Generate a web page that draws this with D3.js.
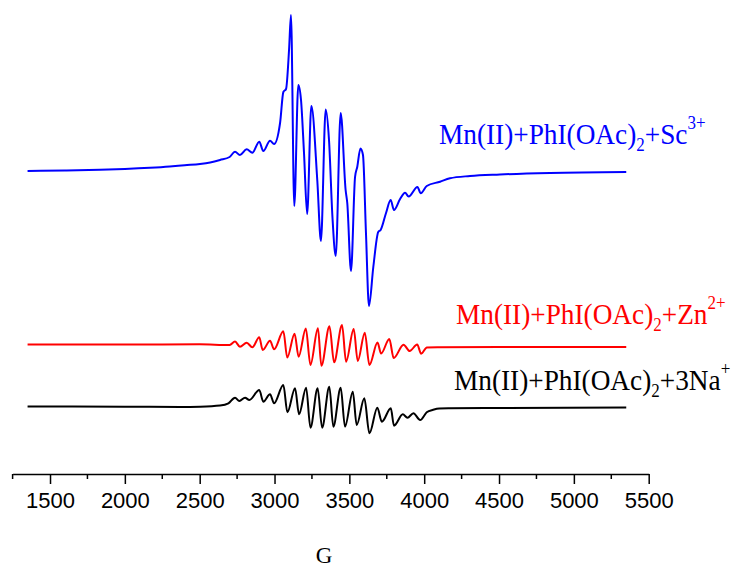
<!DOCTYPE html>
<html>
<head>
<meta charset="utf-8">
<script src="https://cdn.jsdelivr.net/npm/d3@7"></script>
<style>
  html, body { margin: 0; padding: 0; background: #fff; }
  svg { display: block; }
</style>
</head>
<body>
<svg id="chart" width="737" height="568"></svg>
<script>
// Magnetic field (G) and first-derivative EPR intensity (a.u., relative to each trace's baseline)
const fieldSc = [1350, 1600, 1834, 2000, 2168, 2300, 2400, 2502, 2570, 2636, 2700, 2736, 2769, 2814, 2852,
  2898, 2925, 2970, 2997, 3037, 3059, 3077, 3097, 3110, 3132, 3159, 3177, 3197, 3218, 3246, 3286, 3310,
  3342, 3364, 3387, 3409, 3442, 3475, 3486, 3511, 3538, 3553, 3574, 3591, 3611, 3631, 3660, 3693, 3709,
  3745, 3776, 3798, 3838, 3872, 3896, 3955, 3977, 4017, 4106, 4172, 4306, 4506, 4841, 5350];
const intensitySc = [0, 0.5, 1.2, 2, 3.2, 4.5, 5.8, 7, 8.5, 11, 14, 19.3, 16, 21.7, 18.3,
  29.3, 20, 30.3, 27, 48, 79, 82, 121, 156, -35, 86, 71, 18, -43, 65, -10, -70,
  61.5, 31, -46, -85, 58, -19, -32, -100, -6, 4.3, 22.5, 16, -62, -135, -96, -61, -59,
  -42, -29, -39, -28.3, -21.7, -25.5, -16, -22.3, -15, -10.7, -7.3, -5, -3.5, -2, -1];

const fieldZn = [1350, 2000, 2500, 2700, 2736, 2769, 2814, 2852, 2898, 2921, 2970, 2997, 3059, 3085,
  3134, 3161, 3209, 3240, 3290, 3313, 3367, 3398, 3451, 3478, 3529, 3556, 3603, 3634, 3688, 3712,
  3767, 3796, 3862, 3903, 3953, 3980, 4018, 4100, 4500, 5350];
const intensityZn = [0.5, 0.5, 0.7, 0, 3.5, -1.7, 2.3, -2.3, 7.8, -5, 4.3, -4.3, 13.7, -12.5,
  11.3, -11.7, 16.5, -20, 16.7, -20.8, 18.7, -17.3, 20, -16.7, 16, -16, 12.3, -20, 2.5, -8.5,
  6, -13, 0.3, -6, 0.5, -8.7, -2.5, -2.3, -2, -2];

const fieldNa = [1350, 2000, 2369, 2502, 2636, 2692, 2736, 2765, 2803, 2832, 2898, 2925, 2970, 2997,
  3059, 3086, 3137, 3164, 3211, 3240, 3288, 3318, 3366, 3393, 3442, 3471, 3523, 3549, 3600, 3634,
  3687, 3717, 3777, 3798, 3857, 3888, 3928, 3973, 4017, 4060, 4101, 4172, 4500, 5350];
const intensityNa = [0.5, 0.3, 0, 0.3, 1.5, 3.7, 9.3, 6, 9.3, 7, 17, 5.3, 12.7, 3.7,
  22, -5.3, 18.7, -7.3, 19.3, -20.7, 18.7, -20.7, 20.3, -19.7, 19.3, -19.7, 15.3, -18, 8.7, -26.3,
  -0.7, -14.7, -1.3, -18.7, -7.3, -10.7, -6.3, -13, -5.3, -2.8, -1.5, -1.3, -1, -0.5];

// Vertical stacking offsets of the three traces (a.u.)
const traceOffsets = [303, 129, 67];
const traceColors = ["#0000ff", "#ff0000", "#000000"];

// Axis ticks
const majorTicks = [1500, 2000, 2500, 3000, 3500, 4000, 4500, 5000, 5500];
const minorTicks = [1250, 1750, 2250, 2750, 3250, 3750, 4250, 4750, 5250];

const traces = [
  { field: fieldSc, intensity: intensitySc, offset: traceOffsets[0], color: traceColors[0],
    label: { pre: "Mn(II)+PhI(OAc)", sub: "2", mid: "+Sc", sup: "3+" } },
  { field: fieldZn, intensity: intensityZn, offset: traceOffsets[1], color: traceColors[1],
    label: { pre: "Mn(II)+PhI(OAc)", sub: "2", mid: "+Zn", sup: "2+" } },
  { field: fieldNa, intensity: intensityNa, offset: traceOffsets[2], color: traceColors[2],
    label: { pre: "Mn(II)+PhI(OAc)", sub: "2", mid: "+3Na", sup: "+" } }
];
const labelPos = [[439, 144], [456, 324], [454, 390]];

const svg = d3.select("#chart");
const axisY = 474;

const x = d3.scaleLinear().domain([1250, 5500]).range([12.6, 648.7]);
const y = d3.scaleLinear().domain([0, 474]).range([axisY, 0]);

// Spectra
const line = d3.line()
  .x(d => x(d[0]))
  .y(d => d[1])
  .curve(d3.curveMonotoneX);

traces.forEach(t => {
  const pts = t.field.map((g, i) => [g, y(t.offset + t.intensity[i])]);
  svg.append("path")
    .attr("d", line(pts))
    .attr("fill", "none")
    .attr("stroke", t.color)
    .attr("stroke-width", 2)
    .attr("stroke-linejoin", "round");
});

// Trace labels with subscript / superscript (slightly tall serif face)
traces.forEach((t, i) => {
  const g = svg.append("g")
    .attr("transform", `translate(${labelPos[i][0]},${labelPos[i][1]}) scale(1,1.1)`);
  const txt = g.append("text")
    .attr("x", 0)
    .attr("y", 0)
    .attr("fill", t.color)
    .attr("font-family", "'Liberation Serif', 'Times New Roman', serif")
    .attr("font-size", 27.3);
  txt.append("tspan").text(t.label.pre);
  txt.append("tspan").attr("dy", 6).attr("font-size", 17).text(t.label.sub);
  txt.append("tspan").attr("dy", -6).text(t.label.mid);
  txt.append("tspan").attr("dy", -14).attr("font-size", 17).text(t.label.sup);
});

// Bottom axis
const axis = d3.axisBottom(x)
  .tickValues(majorTicks)
  .tickSize(10)
  .tickSizeOuter(0)
  .tickFormat(d3.format("d"));

const gAxis = svg.append("g")
  .attr("transform", `translate(0,${axisY})`)
  .call(axis);
gAxis.select(".domain").attr("stroke", "#000").attr("stroke-width", 1.5);
gAxis.selectAll(".tick line").attr("stroke", "#000").attr("stroke-width", 1.5);
gAxis.selectAll(".tick text")
  .attr("font-family", "'Liberation Sans', Arial, sans-serif")
  .attr("font-size", 22)
  .attr("fill", "#000")
  .attr("dy", 0)
  .attr("y", 34);

gAxis.selectAll(".minor")
  .data(minorTicks)
  .enter().append("line")
  .attr("class", "minor")
  .attr("x1", d => x(d)).attr("x2", d => x(d))
  .attr("y1", 0).attr("y2", 5)
  .attr("stroke", "#000").attr("stroke-width", 1.5);

// Axis title
svg.append("text")
  .attr("x", 324)
  .attr("y", 563)
  .attr("text-anchor", "middle")
  .attr("font-family", "'Liberation Serif', 'Times New Roman', serif")
  .attr("font-size", 23)
  .attr("fill", "#000")
  .text("G");
</script>
</body>
</html>
